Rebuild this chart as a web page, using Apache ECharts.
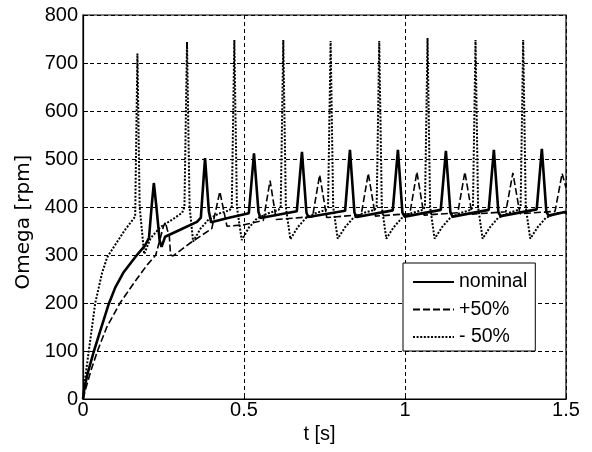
<!DOCTYPE html>
<html>
<head>
<meta charset="utf-8">
<script src="https://cdn.jsdelivr.net/npm/echarts@6/dist/echarts.min.js"></script>
<style>
html,body{margin:0;padding:0;background:#fff;}
#chart{width:592px;height:452px;}
</style>
</head>
<body>
<div id="chart"></div>
<script>
// ---- data ----
const xTicks = [0, 0.5, 1, 1.5];
const yTicks = [0, 100, 200, 300, 400, 500, 600, 700, 800];
const seriesNames = ['nominal', '+50%', '- 50%'];

// nominal
const tNominal = [0, 0.005, 0.015, 0.034, 0.055, 0.08, 0.1, 0.125, 0.15, 0.17, 0.193, 0.205, 0.213, 0.22, 0.228, 0.238, 0.244, 0.255, 0.30, 0.354, 0.366, 0.379, 0.391, 0.398, 0.45, 0.515, 0.531, 0.545, 0.551, 0.664, 0.68, 0.694, 0.70, 0.814, 0.829, 0.843, 0.85, 0.962, 0.978, 0.992, 0.999, 1.111, 1.127, 1.141, 1.148, 1.26, 1.276, 1.29, 1.297, 1.409, 1.425, 1.439, 1.446, 1.5];
const vNominal = [0, 25, 55, 100, 145, 198, 232, 263, 285, 302, 320, 336, 400, 450, 400, 330, 317, 338, 352, 369, 378, 502, 390, 368, 377, 387, 512, 390, 377, 391, 515, 388, 379, 392, 519, 388, 379, 393, 519, 388, 380, 394, 517, 389, 380, 394, 519, 389, 381, 395, 521, 390, 382, 390];

// +50%
const tPlus = [0, 0.01, 0.025, 0.045, 0.074, 0.115, 0.167, 0.2, 0.226, 0.24, 0.25, 0.256, 0.262, 0.268, 0.272, 0.28, 0.333, 0.40, 0.425, 0.447, 0.50, 0.56, 0.581, 0.60, 0.713, 0.735, 0.757, 0.864, 0.886, 0.908, 1.015, 1.037, 1.059, 1.164, 1.186, 1.208, 1.313, 1.335, 1.357, 1.466, 1.488, 1.5];
const vPlus = [0, 25, 60, 100, 150, 200, 250, 280, 300, 335, 360, 368, 352, 340, 300, 298, 325, 355, 432, 360, 363, 372, 455, 374, 380, 467, 378, 384, 470, 381, 386, 473, 383, 388, 473, 385, 390, 471, 386, 391, 470, 440];

// -50%
const tMinus = [0, 0.006, 0.018, 0.038, 0.059, 0.075, 0.096, 0.13, 0.162, 0.169, 0.176, 0.19, 0.21, 0.24, 0.28, 0.308, 0.315, 0.323, 0.331, 0.342, 0.365, 0.39, 0.42, 0.455, 0.462, 0.47, 0.478, 0.493, 0.515, 0.54, 0.575, 0.607, 0.614, 0.622, 0.630, 0.644, 0.667, 0.692, 0.722, 0.754, 0.761, 0.769, 0.777, 0.791, 0.814, 0.839, 0.869, 0.905, 0.912, 0.920, 0.928, 0.942, 0.965, 0.990, 1.020, 1.055, 1.062, 1.070, 1.078, 1.092, 1.115, 1.140, 1.170, 1.204, 1.211, 1.219, 1.227, 1.241, 1.264, 1.289, 1.319, 1.352, 1.359, 1.367, 1.375, 1.389, 1.412, 1.437, 1.467, 1.5];
const vMinus = [0, 40, 100, 200, 262, 295, 317, 352, 380, 720, 400, 302, 335, 358, 375, 388, 400, 744, 400, 328, 355, 374, 386, 393, 400, 748, 400, 331, 357, 376, 387, 394, 400, 748, 400, 333, 358, 377, 387, 394, 400, 746, 400, 334, 358, 377, 387, 394, 400, 746, 400, 334, 358, 377, 387, 394, 400, 752, 400, 334, 358, 377, 387, 394, 400, 748, 400, 334, 358, 377, 387, 394, 400, 748, 400, 334, 358, 377, 387, 388];

function pairs(ts, vs) { return ts.map((t, i) => [t, vs[i]]); }

const FONT = "'Liberation Sans', Arial, sans-serif";
const chart = echarts.init(document.getElementById('chart'), null, {renderer: 'canvas'});
chart.setOption({
  animation: false,
  backgroundColor: '#fff',
  grid: {left: 83, top: 15, right: 26, bottom: 53, show: true, borderColor: '#000', borderWidth: 1.2, backgroundColor: 'transparent'},
  xAxis: {
    type: 'value', min: xTicks[0], max: xTicks[xTicks.length - 1], interval: 0.5,
    name: 't [s]', nameLocation: 'middle', nameGap: 22,
    nameTextStyle: {fontFamily: FONT, fontSize: 20, color: '#000', padding: [0, 10, 0, 0]},
    axisLine: {show: true, lineStyle: {color: '#000', width: 1.2}},
    axisTick: {show: true, inside: true, length: 5, lineStyle: {color: '#000'}},
    axisLabel: {fontFamily: FONT, fontSize: 20, color: '#000', margin: 1},
    splitLine: {show: true, lineStyle: {color: '#000', width: 1, type: [4, 3]}}
  },
  yAxis: {
    type: 'value', min: yTicks[0], max: yTicks[yTicks.length - 1], interval: 100,
    name: 'Omega [rpm]', nameLocation: 'middle', nameGap: 49, nameRotate: 90,
    nameTextStyle: {fontFamily: "'DejaVu Sans', sans-serif", fontSize: 20, color: '#000', padding: [0, 30, 0, 0]},
    axisLine: {show: true, lineStyle: {color: '#000', width: 1.2}},
    axisTick: {show: true, inside: true, length: 5, lineStyle: {color: '#000'}},
    axisLabel: {fontFamily: FONT, fontSize: 20, color: '#000', margin: 5},
    splitLine: {show: true, lineStyle: {color: '#000', width: 1, type: [4, 3]}}
  },
  legend: {
    orient: 'vertical', left: 403, top: 263,
    padding: [9, 8, 4, 9], itemGap: 7.5, itemWidth: 41, itemHeight: 14, itemTextGap: 9,
    backgroundColor: '#fff', borderColor: '#000', borderWidth: 1,
    itemStyle: {opacity: 0},
    textStyle: {fontFamily: FONT, fontSize: 19.5, lineHeight: 20, color: '#000'},
    data: seriesNames
  },
  series: [
    {name: seriesNames[0], type: 'line', symbol: 'none', data: pairs(tNominal, vNominal), z: 5,
     lineStyle: {color: '#000', width: 2.6}, itemStyle: {color: '#000'}},
    {name: seriesNames[1], type: 'line', symbol: 'none', data: pairs(tPlus, vPlus), z: 4,
     lineStyle: {color: '#000', width: 1.6, type: [7, 3]}, itemStyle: {color: '#000'}},
    {name: seriesNames[2], type: 'line', symbol: 'none', data: pairs(tMinus, vMinus), z: 3,
     lineStyle: {color: '#000', width: 2, type: [2, 1.6]}, itemStyle: {color: '#000'}}
  ]
});
</script>
</body>
</html>
